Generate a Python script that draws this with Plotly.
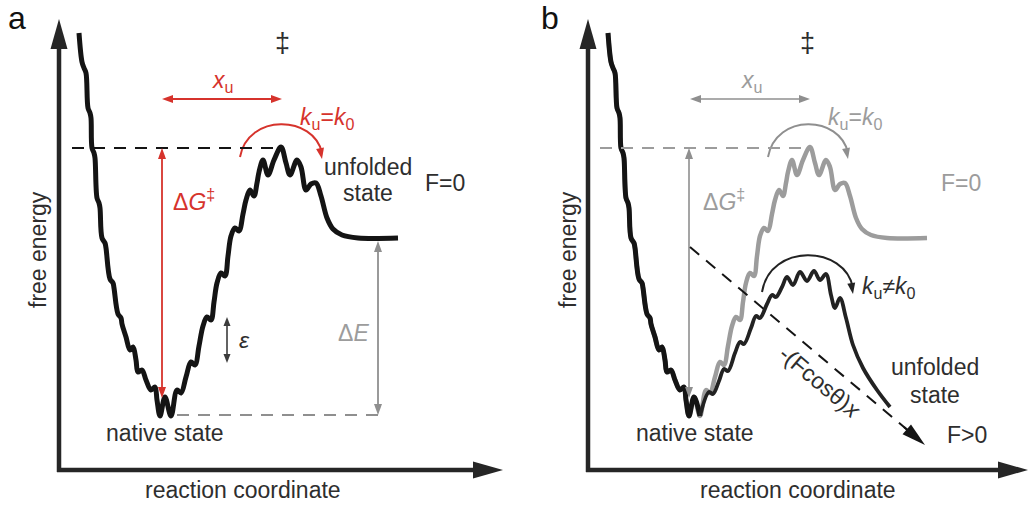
import math
import plotly.graph_objects as go

# ---------------- data (arbitrary units: reaction coordinate, free energy) ----------------
# rugged free-energy landscape at zero force (panel a, grey reference in panel b)
landscape_x = [20, 23, 25, 27, 29, 31, 32, 33, 35, 36, 38, 40, 41, 43, 46, 47, 51, 54, 55, 59,
               62, 63, 67, 71, 74, 77, 79, 83, 87, 92, 96, 98, 101, 106, 112, 118, 122, 127, 132, 136,
               140, 144, 148, 152, 155, 158, 162, 166, 169, 172, 176, 180, 184, 187, 191, 195, 198, 200, 204, 209,
               215, 222, 227, 231, 238, 242, 247, 252, 257, 262, 268, 274, 283, 299, 339]
landscape_y = [437, 408, 402, 397, 362, 357, 352, 322, 317, 312, 272, 267, 262, 232, 227, 222, 191, 187, 182, 156,
               152, 146, 133, 120, 123, 110, 98, 100, 90, 80, 83, 70, 54, 73, 54, 80, 77, 93, 108, 105,
               124, 144, 153, 150, 168, 187, 197, 194, 214, 234, 242, 239, 256, 270, 280, 274, 287, 298, 310, 295,
               310, 323, 307, 295, 310, 303, 280, 286, 287, 274, 252, 241, 235, 232, 232]
# landscape tilted by an applied force F>0 (branch leaving the native well, panel b)
tilted_x = [121, 125, 131, 136, 140, 147, 152, 156, 163, 168, 172, 179, 184, 188, 194, 199, 205, 212, 219, 226,
            232, 238, 243, 247, 252, 258, 265, 275, 289, 302]
tilted_y = [78, 76, 89, 101, 99, 117, 128, 126, 142, 154, 152, 166, 175, 173, 183, 193, 185, 198, 189, 199,
            190, 196, 175, 162, 172, 152, 125, 102, 80, 63]
branch_start_x = 112          # second native minimum where the tilted branch departs
barrier_top = 322             # free energy of the transition state
native_min = 56               # free energy of the native state
unfolded_level = 232          # free energy of the unfolded plateau
eps_low, eps_high = 107, 153  # roughness scale epsilon
xu_left, xu_right = 103, 223  # native state -> transition state distance
force_line = [(102, 223), (322, 38)]   # -(F cos theta) x potential

# ---------------- styles ----------------
BLACK = "#141414"
TEXT = "#2e2e2e"
RED = "#d6332c"
GREY = "#8f8f8f"
LGREY = "#9c9c9c"
FONT = "Liberation Sans, Arial, Helvetica, sans-serif"
FS = 23

fig = go.Figure()

def curve(x, y, ax, color, width):
    fig.add_trace(go.Scatter(x=x, y=y, xaxis=ax[0], yaxis=ax[1], mode="lines",
                             line=dict(color=color, width=width, shape="spline", smoothing=1.0),
                             hoverinfo="skip", showlegend=False))

A = ("x", "y")
B = ("x2", "y2")
k = landscape_x.index(branch_start_x)

curve(landscape_x, landscape_y, A, BLACK, 5)
curve(landscape_x, landscape_y, B, LGREY, 4.5)
curve(landscape_x[:k + 1], landscape_y[:k + 1], B, BLACK, 5)
curve([landscape_x[k]] + tilted_x, [landscape_y[k]] + tilted_y, B, "#222222", 3.8)

shapes = []
annotations = []

def head(ref, tip, d, L, W, color):
    n = math.hypot(*d)
    ux, uy = d[0] / n, d[1] / n
    px, py = -uy, ux
    bx, by = tip[0] - L * ux, tip[1] - L * uy
    p = "M {:.2f},{:.2f} L {:.2f},{:.2f} L {:.2f},{:.2f} Z".format(
        tip[0], tip[1], bx + px * W / 2, by + py * W / 2, bx - px * W / 2, by - py * W / 2)
    shapes.append(dict(type="path", path=p, xref=ref[0], yref=ref[1], fillcolor=color,
                       line=dict(width=0), layer="above"))

def arrow(ref, p0, p1, color, width, L, W, both=False, dash="solid"):
    d = (p1[0] - p0[0], p1[1] - p0[1])
    n = math.hypot(*d)
    ux, uy = d[0] / n, d[1] / n
    e1 = (p1[0] - ux * L * 0.8, p1[1] - uy * L * 0.8)
    e0 = (p0[0] + ux * L * 0.8, p0[1] + uy * L * 0.8) if both else p0
    shapes.append(dict(type="line", x0=e0[0], y0=e0[1], x1=e1[0], y1=e1[1], xref=ref[0], yref=ref[1],
                       line=dict(color=color, width=width, dash=dash), layer="above"))
    head(ref, p1, d, L, W, color)
    if both:
        head(ref, p0, (-d[0], -d[1]), L, W, color)

def hline(ref, x0, x1, y, color, width=2, dash="12px,9px"):
    shapes.append(dict(type="line", x0=x0, x1=x1, y0=y, y1=y, xref=ref[0], yref=ref[1],
                       line=dict(color=color, width=width, dash=dash), layer="above"))

def arc(ref, p0, p1, h, color, width=2, L=11, W=8):
    c1 = (p0[0] + 8, p0[1] + h * 4 / 3)
    c2 = (p1[0] - 8, p1[1] + h * 4 / 3)
    p = "M {},{} C {},{} {},{} {},{}".format(p0[0], p0[1], c1[0], c1[1], c2[0], c2[1], p1[0], p1[1] + 6)
    shapes.append(dict(type="path", path=p, xref=ref[0], yref=ref[1], line=dict(color=color, width=width),
                       layer="above"))
    head(ref, p1, (p1[0] - c2[0], p1[1] - c2[1]), L, W, color)

def label(ref, x, y, text, size=FS, color=TEXT, angle=0):
    annotations.append(dict(x=x, y=y, xref=ref[0], yref=ref[1], text=text, showarrow=False,
                            textangle=angle, font=dict(size=size, color=color, family=FONT)))

# ---------- axes (both panels) ----------
for ref, xtip in ((A, 444), (B, 440)):
    arrow(ref, (0, -2), (0, 451), "#262626", 4.5, 30, 17)
    arrow(ref, (-2, 0), (xtip, 0), "#262626", 4.5, 30, 17)

# ---------- panel a ----------
label(A, -42, 452, "a", 32, "#111111")
label(A, -21, 220, "free energy", FS, TEXT, -90)
label(A, 184, -20, "reaction coordinate", FS, TEXT)
label(A, 223, 427, "‡", 27, TEXT)
label(A, 163, 389, "<i>x</i><sub>u</sub>", FS, RED)
arrow(A, (xu_left, 371), (xu_right, 371), RED, 1.8, 11, 8, both=True)
label(A, 268, 352, "<i>k</i><sub>u</sub>=<i>k</i><sub>0</sub>", FS, RED)
arc(A, (181, 313), (263, 311), 33, RED)
hline(A, 13, 224, barrier_top, BLACK, 2.2)
arrow(A, (103, native_min + 16), (103, barrier_top), RED, 1.8, 11, 8, both=True)
label(A, 135, 270, "Δ<i>G</i><sup>‡</sup>", FS, RED)
label(A, 309, 303, "unfolded", FS, TEXT)
label(A, 309, 277, "state", FS, TEXT)
label(A, 386, 287, "F=0", FS, TEXT)
hline(A, 118, 321, native_min - 1, GREY, 2)
arrow(A, (319, native_min - 1), (319, unfolded_level - 3), GREY, 1.8, 11, 8, both=True)
label(A, 294, 137, "Δ<i>E</i>", FS, LGREY)
arrow(A, (168, eps_low), (168, eps_high), "#3c3c3c", 1.6, 9, 7, both=True)
label(A, 185, 130, "<i>ε</i>", FS, TEXT)
label(A, 106, 37, "native state", FS, TEXT)

# ---------- panel b ----------
label(B, -38, 452, "b", 32, "#111111")
label(B, -20, 220, "free energy", FS, TEXT, -90)
label(B, 210, -20, "reaction coordinate", FS, TEXT)
label(B, 219, 427, "‡", 27, TEXT)
label(B, 163, 389, "<i>x</i><sub>u</sub>", FS, LGREY)
arrow(B, (xu_left - 1, 371), (xu_right - 1, 371), GREY, 1.6, 11, 8, both=True)
label(B, 267, 352, "<i>k</i><sub>u</sub>=<i>k</i><sub>0</sub>", FS, LGREY)
arc(B, (180, 313), (260, 311), 33, GREY)
hline(B, 12, 222, barrier_top, LGREY, 2)
arrow(B, (101, native_min + 16), (101, barrier_top), GREY, 1.6, 11, 8, both=True)
label(B, 136, 270, "Δ<i>G</i><sup>‡</sup>", FS, LGREY)
label(B, 373, 287, "F=0", FS, LGREY)
shapes.append(dict(type="line", x0=force_line[0][0], y0=force_line[0][1], x1=force_line[1][0],
                   y1=force_line[1][1], xref="x2", yref="y2",
                   line=dict(color=BLACK, width=2, dash="12px,9px"), layer="above"))
arrow(B, (316, 43), (337, 25), BLACK, 2, 24, 13)
label(B, 232, 88, "-(Fcosθ)<i>x</i>", FS, TEXT, 40)
label(B, 379, 35, "F>0", FS, TEXT)
label(B, 347, 103, "unfolded", FS, TEXT)
label(B, 347, 75, "state", FS, TEXT)
label(B, 301, 183, "<i>k</i><sub>u</sub>≠<i>k</i><sub>0</sub>", FS, TEXT)
arc(B, (174, 178), (265, 176), 37, "#222222")
label(B, 107, 37, "native state", FS, TEXT)

fig.update_layout(
    width=1030, height=506, margin=dict(l=0, r=0, t=0, b=0),
    paper_bgcolor="white", plot_bgcolor="white", showlegend=False,
    font=dict(family=FONT, color=TEXT),
    xaxis=dict(domain=[0, 0.5], range=[-59, 456], visible=False, fixedrange=True),
    yaxis=dict(domain=[0, 1], range=[-36, 470], visible=False, fixedrange=True),
    xaxis2=dict(domain=[0.5, 1], range=[-73, 442], visible=False, fixedrange=True, anchor="y2"),
    yaxis2=dict(domain=[0, 1], range=[-36, 470], visible=False, fixedrange=True, anchor="x2"),
    shapes=shapes, annotations=annotations,
)

fig.write_html("out.html")
